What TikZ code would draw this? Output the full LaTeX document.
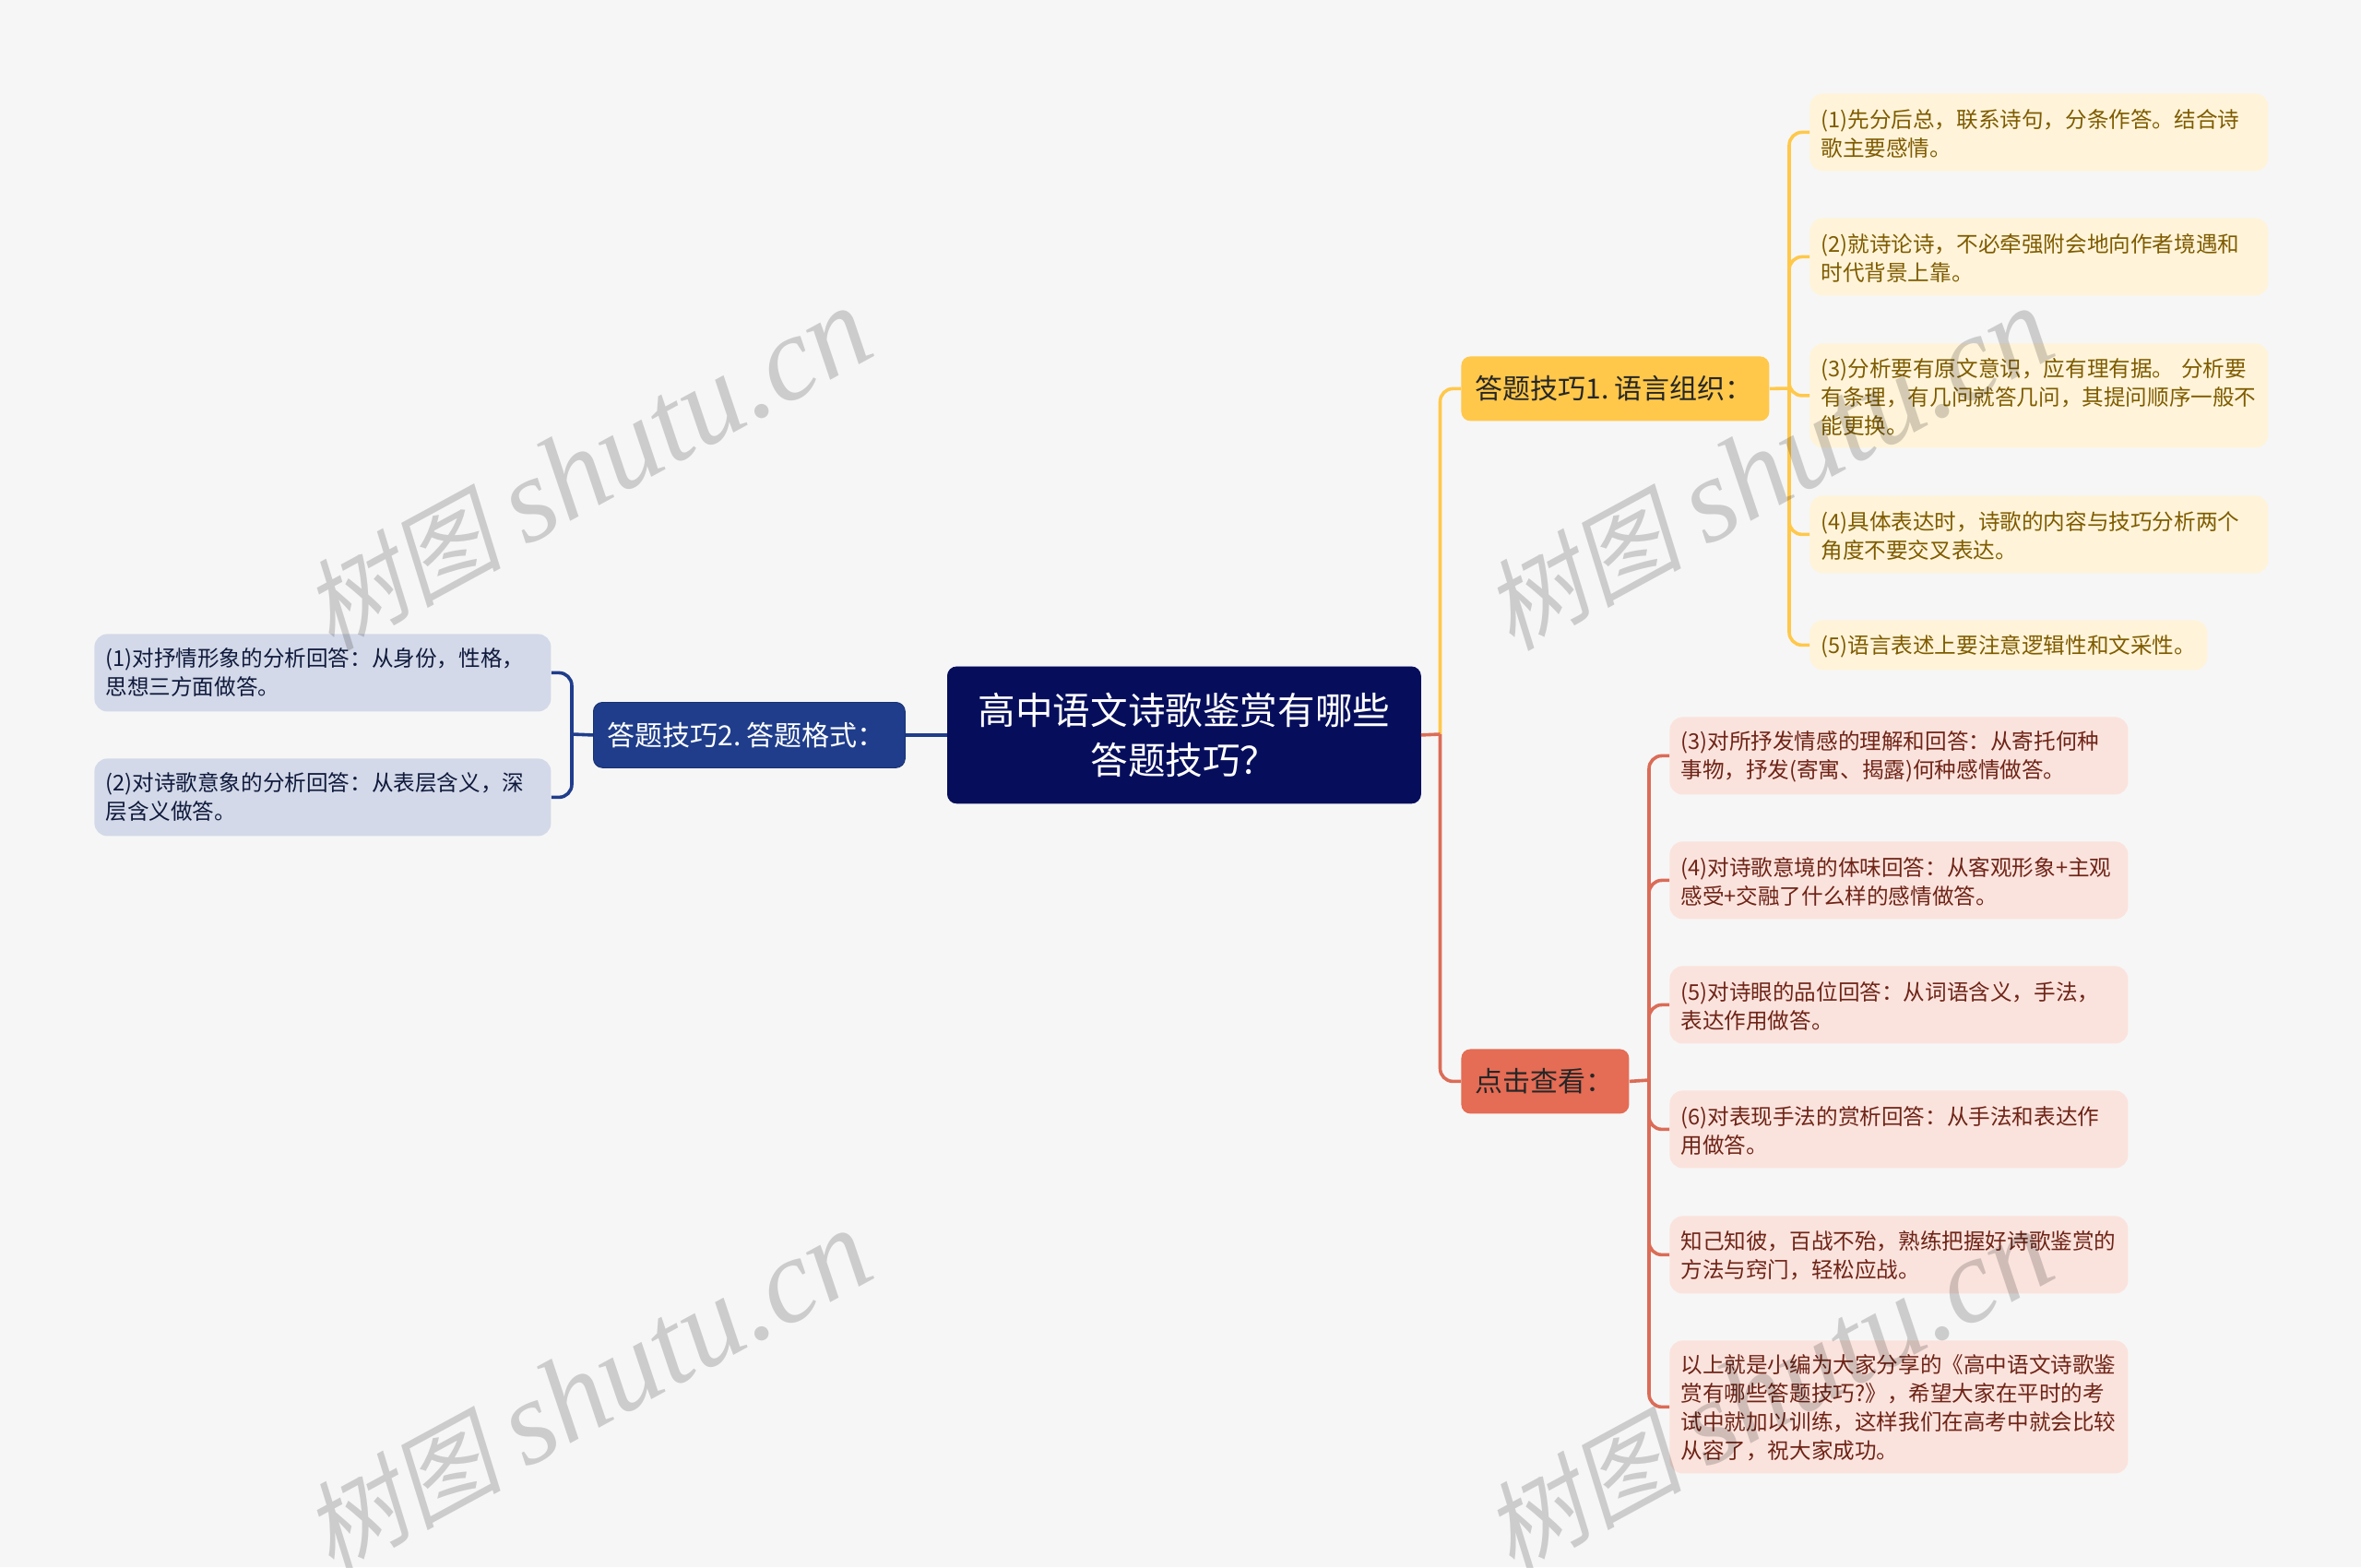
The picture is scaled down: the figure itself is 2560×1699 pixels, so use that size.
\documentclass[tikz,border=0pt]{standalone}
\usepackage{fontspec}
\setmainfont{Noto Sans CJK SC}
\newfontfamily\wmcjk[FakeSlant=0.2]{Noto Sans CJK SC}
\newfontfamily\wmlat{Liberation Serif}[ItalicFont=* Italic]
\lineskiplimit=-100pt
\newdimen\px \px=0.5pt
\newcommand{\lowerfirst}{\setbox0\hbox{(汉以}\vrule height\dimexpr\ht0+3\px\relax width0pt\relax}
\definecolor{bgc}{HTML}{F6F6F6}
\definecolor{rootc}{HTML}{060E5C}
\definecolor{blc}{HTML}{1F3D8B}
\definecolor{ylc}{HTML}{FFC84A}
\definecolor{rdc}{HTML}{E56C55}
\definecolor{rdw}{HTML}{DB6C57}
\definecolor{blleaf}{HTML}{D3D9E8}
\definecolor{ylleaf}{HTML}{FFF4D9}
\definecolor{rdleaf}{HTML}{FBE3DD}
\definecolor{yltext}{HTML}{7E5B00}
\definecolor{rdtext}{HTML}{6E2417}
\definecolor{bltext}{HTML}{0F1A3C}
\tikzset{
  base/.style={anchor=north west,inner xsep=0pt,inner ysep=0pt,align=left,rounded corners=7pt},
  size/.style n args={3}{minimum width=#1\px,minimum height=#2\px,text width=#1\px-2*#3\px,inner xsep=#3\px},
  rootbox/.style={base,rounded corners=5pt,fill=rootc,draw=rootc,text=white,align=center,font=\fontsize{20.3}{27}\selectfont},
  midbox/.style={base,rounded corners=5pt,font=\fontsize{15}{18}\selectfont},
  leafbox/.style={base,font=\fontsize{11.8}{15.5}\selectfont},
  ybleaf/.style={leafbox,fill=ylleaf,text=yltext,execute at begin node={\lowerfirst}},
  rdbleaf/.style={leafbox,fill=rdleaf,text=rdtext,execute at begin node={\lowerfirst}},
  blbleaf/.style={leafbox,fill=blleaf,text=bltext},
  wire/.style={line width=1.8pt,rounded corners=7pt},
  wm/.style={rotate=28.5,text=black,text opacity=0.17,anchor=center,inner sep=0pt,font=\fontsize{54}{60}\selectfont},
}
\newcommand{\wmtext}{{\wmcjk 树图} {\wmlat\itshape\fontsize{65}{60}\selectfont shutu.cn}}
\begin{document}
\begin{tikzpicture}[x=0.5pt,y=-0.5pt]
\useasboundingbox (0,0) rectangle (2560,1699);
\clip (0,0) rectangle (2560,1699);
\fill[bgc] (0,0) rectangle (2560,1699);

% nodes
\node[rootbox,size={513}{148}{10}] (root) at (1027,722.5) {高中语文诗歌鉴赏有哪些\\答题技巧？};

\node[midbox,size={338}{71}{15},fill=blc,draw=blc!80!black,text=white] (b2) at (643,761) {\mbox{答题技巧2.\hspace{0.2em}答题格式：}};
\node[blbleaf,size={495}{84}{12}] (l1) at (102,687) {(1)对抒情形象的分析回答：从身份，性格，\\思想三方面做答。};
\node[blbleaf,size={495}{84}{12}] (l2) at (102,822) {(2)对诗歌意象的分析回答：从表层含义，深\\层含义做答。};

\node[midbox,size={334}{70}{15},fill=ylc,text=black!85] (b1) at (1584,386) {\mbox{答题技巧1.\hspace{0.2em}语言组织：}};
\node[ybleaf,size={497}{84}{12}] (y1) at (1962,101) {(1)先分后总，联系诗句，分条作答。结合诗\\歌主要感情。};
\node[ybleaf,size={497}{84}{12}] (y2) at (1962,236) {(2)就诗论诗，不必牵强附会地向作者境遇和\\时代背景上靠。};
\node[ybleaf,size={497}{113}{12}] (y3) at (1962,372) {(3)分析要有原文意识，应有理有据。 分析要\\有条理，有几问就答几问，其提问顺序一般不\\能更换。};
\node[ybleaf,size={497}{84}{12}] (y4) at (1962,537) {(4)具体表达时，诗歌的内容与技巧分析两个\\角度不要交叉表达。};
\node[ybleaf,size={431}{54}{12}] (y5) at (1962,672) {(5)语言表述上要注意逻辑性和文采性。};

\node[midbox,size={182}{70}{15},fill=rdc,text=black!85] (b3) at (1584,1137) {点击查看：};
\node[rdbleaf,size={497}{84}{12}] (r1) at (1810,777) {(3)对所抒发情感的理解和回答：从寄托何种\\事物，抒发(寄寓、揭露)何种感情做答。};
\node[rdbleaf,size={497}{84}{12}] (r2) at (1810,912) {(4)对诗歌意境的体味回答：从客观形象+主观\\感受+交融了什么样的感情做答。};
\node[rdbleaf,size={497}{84}{12}] (r3) at (1810,1047) {(5)对诗眼的品位回答：从词语含义，手法，\\表达作用做答。};
\node[rdbleaf,size={497}{84}{12}] (r4) at (1810,1182) {(6)对表现手法的赏析回答：从手法和表达作\\用做答。};
\node[rdbleaf,size={497}{84}{12}] (r5) at (1810,1318) {知己知彼，百战不殆，熟练把握好诗歌鉴赏的\\方法与窍门，轻松应战。};
\node[rdbleaf,size={497}{144}{12}] (r6) at (1810,1453) {以上就是小编为大家分享的《高中语文诗歌鉴\\赏有哪些答题技巧?》，希望大家在平时的考\\试中就加以训练，这样我们在高考中就会比较\\从容了，祝大家成功。};

% bus coordinates
\coordinate (trunk) at (1561.5,796);
\coordinate (busy) at (1940,421);
\coordinate (busr) at (1788,1171);
\coordinate (busb) at (620,796);

% connectors
\draw[wire,blc] (root.west) -- (b2.east);
\draw[wire,blc] (b2.west) -- (busb);
\foreach \n in {l1,l2} \draw[wire,blc] (busb) |- (\n.east);

\draw[wire,ylc] (trunk) |- (b1.west);
\draw[wire,ylc] (b1.east) -- (busy);
\foreach \n in {y1,y2,y3,y4,y5} \draw[wire,ylc] (busy) |- (\n.west);

\draw[wire,rdw] (trunk) |- (b3.west);
\draw[wire,rdw] (root.east) -- (trunk);
\draw[wire,rdw] (b3.east) -- (busr);
\foreach \n in {r1,r2,r3,r4,r5,r6} \draw[wire,rdw] (busr) |- (\n.west);

% watermark
\node[wm] (wa) at (637,509) {\wmtext};
\node[wm] (wb) at (1917,509) {\wmtext};
\node[wm] (wc) at (637,1509) {\wmtext};
\node[wm] (wd) at (1917,1509) {\wmtext};
\end{tikzpicture}
\end{document}
